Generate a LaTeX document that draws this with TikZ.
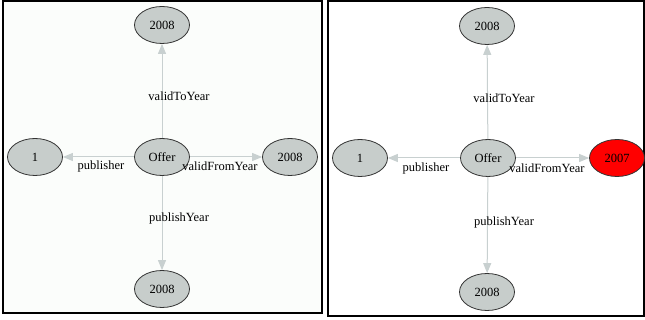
\documentclass[tikz,border=0pt]{standalone}
\usepackage{fontspec}
\setmainfont{Liberation Serif}
\usetikzlibrary{shapes.geometric,arrows.meta}
\definecolor{nodefill}{RGB}{199,205,203}
\definecolor{edgecol}{RGB}{200,208,208}
\definecolor{panelbg}{RGB}{251,253,251}
\definecolor{redfill}{RGB}{255,0,0}
\tikzset{
  gnode/.style={ellipse, draw=black!80, line width=0.8pt, fill=nodefill,
    minimum width=55pt, minimum height=37pt, inner sep=0pt, font=\fontsize{12.5}{14}\selectfont},
  gedge/.style={draw=edgecol, line width=1pt, -{Triangle[length=10pt,width=8pt]}},
  elabel/.style={font=\fontsize{12.5}{14}\selectfont, inner sep=0pt},
  frame/.style={draw=black, line width=2pt}
}
\begin{document}
\begin{tikzpicture}[x=1pt,y=-1pt]
\useasboundingbox (0,0) rectangle (645,320);
% panels
\draw[frame, fill=panelbg] (3,1.5) rectangle (322,313) ;
\draw[frame, fill=white] (328,1.5) rectangle (644,316);
% left panel
\node[gnode] (LO) at (162,157) {Offer};
\node[gnode] (LT) at (162,25) {2008};
\node[gnode] (LL) at (35,157) {1};
\node[gnode] (LR) at (290,157) {2008};
\node[gnode] (LB) at (162,289) {2008};
\draw[gedge] (LO) -- (LT);
\draw[gedge] (LO) -- (LL);
\draw[gedge] (LO) -- (LR);
\draw[gedge] (LO) -- (LB);
\node[elabel] (LlT) at (179,96) {validToYear};
\node[elabel] (LlL) at (101,166) {publisher};
\node[elabel] (LlR) at (220,166) {validFromYear};
\node[elabel] (LlB) at (179,218) {publishYear};
% right panel
\node[gnode] (RO) at (488,158) {Offer};
\node[gnode] (RT) at (487,26) {2008};
\node[gnode] (RL) at (360,158) {1};
\node[gnode, fill=redfill] (RR) at (617,158) {2007};
\node[gnode] (RB) at (487,292) {2008};
\draw[gedge] (RO) -- (RT);
\draw[gedge] (RO) -- (RL);
\draw[gedge] (RO) -- (RR);
\draw[gedge] (RO) -- (RB);
\node[elabel] (RlT) at (504,98) {validToYear};
\node[elabel] (RlL) at (426,168) {publisher};
\node[elabel] (RlR) at (547,168) {validFromYear};
\node[elabel] (RlB) at (504,222) {publishYear};
\end{tikzpicture}
\end{document}
